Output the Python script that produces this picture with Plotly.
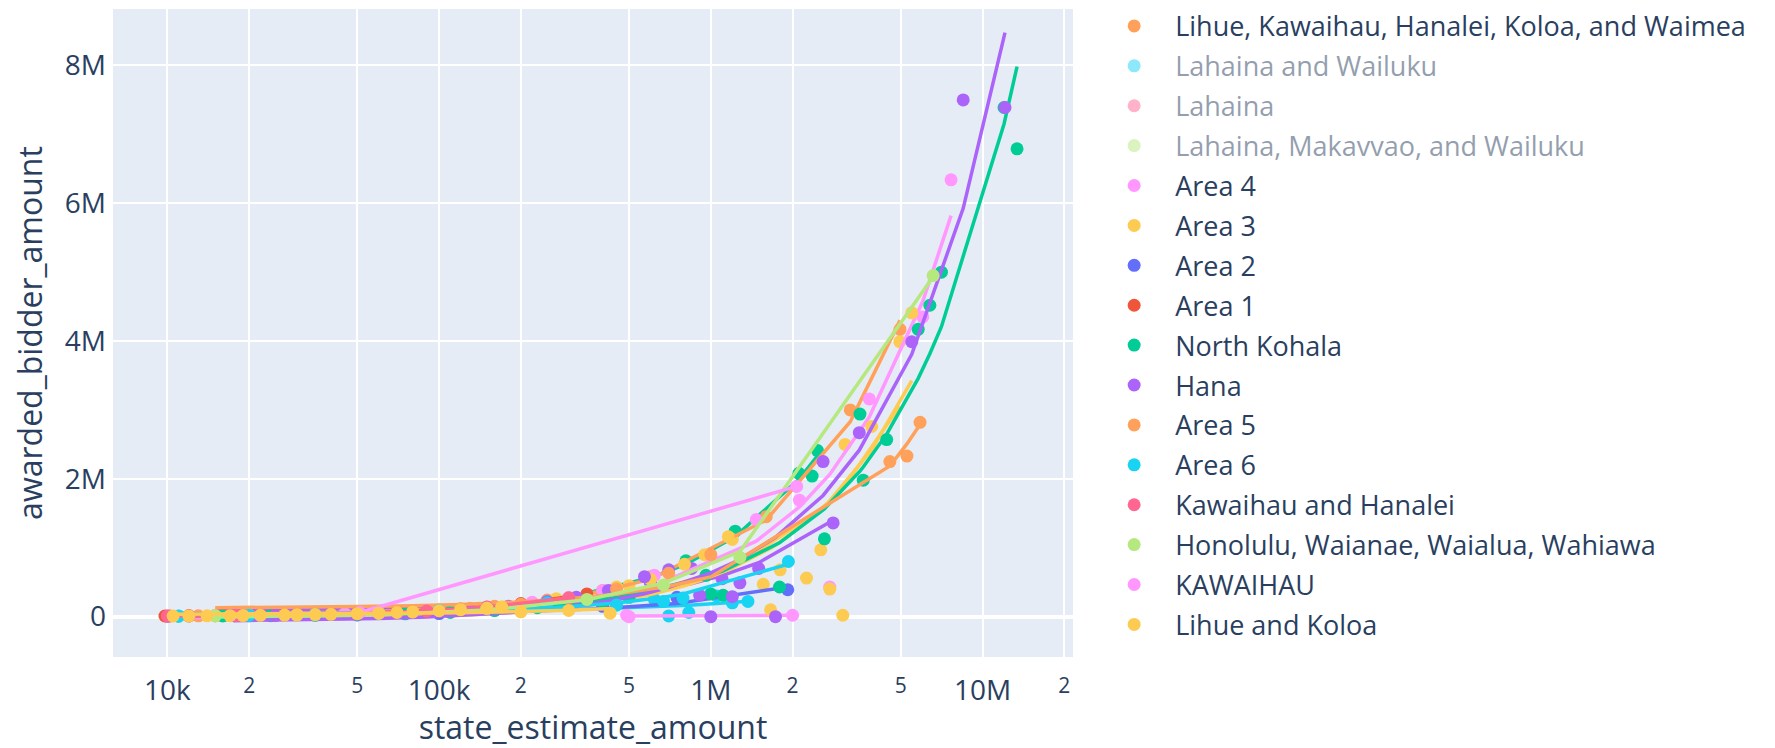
import numpy as np
import plotly.graph_objects as go

# ---------------- data (dollars) ----------------
# groups shown in the legend, in legend order
lihue_waimea_x = [0.013e6, 0.02e6, 0.035e6, 0.06e6, 0.1e6, 0.16e6, 0.25e6, 0.4e6, 0.6e6, 1.6e6, 3.26e6, 4.97e6]
lihue_waimea_y = [0.012e6, 0.019e6, 0.033e6, 0.057e6, 0.095e6, 0.15e6, 0.24e6, 0.38e6, 0.58e6, 1.45e6, 3.0e6, 4.17e6]

lahaina_wailuku_x = [0.05e6, 0.3e6, 1.2e6]
lahaina_wailuku_y = [0.045e6, 0.27e6, 1.0e6]

lahaina_x = [0.04e6, 0.2e6, 0.9e6]
lahaina_y = [0.035e6, 0.18e6, 0.8e6]

lahaina_makawao_x = [0.06e6, 0.5e6, 2.0e6]
lahaina_makawao_y = [0.05e6, 0.45e6, 1.8e6]

area4_x = [0.012e6, 0.02e6, 0.03e6, 0.045e6, 0.07e6, 0.1e6, 0.15e6, 0.22e6, 0.3e6, 0.4e6,
           0.62e6, 1.47e6, 2.12e6, 2.74e6, 3.83e6, 6.03e6, 7.66e6]
area4_y = [0.011e6, 0.019e6, 0.028e6, 0.043e6, 0.066e6, 0.095e6, 0.14e6, 0.21e6, 0.28e6, 0.38e6,
           0.6e6, 1.41e6, 1.69e6, 0.43e6, 3.16e6, 4.35e6, 6.34e6]

area3_x = [0.015e6, 0.02e6, 0.03e6, 0.05e6, 0.07e6, 0.1e6, 0.13e6, 0.2e6, 0.27e6, 0.35e6, 0.45e6, 0.6e6,
           0.8e6, 0.95e6, 1.16e6, 1.56e6, 1.66e6, 1.8e6, 2.25e6, 2.74e6, 3.91e6, 5.49e6]
area3_y = [0.014e6, 0.018e6, 0.028e6, 0.047e6, 0.066e6, 0.095e6, 0.12e6, 0.18e6, 0.26e6, 0.32e6, 0.43e6, 0.54e6,
           0.76e6, 0.9e6, 1.16e6, 0.47e6, 0.1e6, 0.68e6, 0.56e6, 0.4e6, 2.76e6, 4.41e6]

area2_x = [0.01e6, 0.02e6, 0.05e6, 0.1e6, 0.2e6, 0.4e6, 0.75e6, 1.92e6]
area2_y = [0.006e6, 0.011e6, 0.025e6, 0.045e6, 0.08e6, 0.15e6, 0.28e6, 0.39e6]

area1_x = [0.0098e6, 0.0102e6, 0.012e6, 0.016e6, 0.025e6, 0.04e6, 0.07e6, 0.12e6, 0.2e6, 0.35e6]
area1_y = [0.009e6, 0.0095e6, 0.011e6, 0.015e6, 0.023e6, 0.037e6, 0.065e6, 0.11e6, 0.19e6, 0.33e6]

north_kohala_x = [0.011e6, 0.016e6, 0.024e6, 0.035e6, 0.05e6, 0.075e6, 0.11e6, 0.16e6, 0.23e6, 0.3e6, 0.4e6, 0.5e6,
                  0.96e6, 1.0e6, 1.11e6, 1.79e6, 2.62e6, 3.54e6, 3.64e6, 4.44e6, 5.8e6, 6.4e6, 7.06e6,
                  12.0e6, 13.4e6]
north_kohala_y = [0.006e6, 0.009e6, 0.013e6, 0.019e6, 0.028e6, 0.041e6, 0.06e6, 0.088e6, 0.13e6, 0.17e6, 0.22e6, 0.28e6,
                  0.6e6, 0.33e6, 0.31e6, 0.43e6, 1.13e6, 2.94e6, 1.98e6, 2.57e6, 4.17e6, 4.52e6, 5.0e6,
                  7.39e6, 6.79e6]

hana_x = [0.0175e6, 0.025e6, 0.04e6, 0.06e6, 0.09e6, 0.13e6, 0.18e6, 0.25e6, 0.32e6, 0.42e6, 0.57e6, 0.70e6,
          0.91e6, 1.0e6, 1.2e6, 1.28e6, 1.73e6, 2.59e6, 3.52e6, 5.49e6, 8.49e6, 12.1e6]
hana_y = [0.015e6, 0.02e6, 0.035e6, 0.05e6, 0.08e6, 0.11e6, 0.15e6, 0.22e6, 0.28e6, 0.38e6, 0.58e6, 0.68e6,
          0.31e6, 0.0e6, 0.29e6, 0.49e6, 0.0e6, 2.25e6, 2.67e6, 3.99e6, 7.5e6, 7.39e6]

area5_x = [0.015e6, 0.03e6, 0.05e6, 0.08e6, 0.12e6, 0.2e6, 0.3e6, 0.45e6, 0.7e6, 1.0e6, 4.56e6, 5.27e6, 5.89e6]
area5_y = [0.013e6, 0.027e6, 0.045e6, 0.072e6, 0.11e6, 0.18e6, 0.27e6, 0.4e6, 0.63e6, 0.9e6, 2.25e6, 2.33e6, 2.82e6]

area6_x = [0.011e6, 0.02e6, 0.035e6, 0.06e6, 0.1e6, 0.15e6, 0.25e6, 0.45e6, 0.67e6, 0.79e6, 1.93e6]
area6_y = [0.01e6, 0.018e6, 0.032e6, 0.055e6, 0.09e6, 0.13e6, 0.2e6, 0.17e6, 0.22e6, 0.27e6, 0.8e6]

kawaihau_hanalei_x = [0.01e6, 0.018e6, 0.03e6, 0.05e6, 0.09e6, 0.15e6, 0.3e6]
kawaihau_hanalei_y = [0.009e6, 0.016e6, 0.027e6, 0.045e6, 0.08e6, 0.14e6, 0.27e6]

honolulu_x = [0.015e6, 0.03e6, 0.06e6, 0.15e6, 0.35e6, 0.67e6, 1.28e6, 6.58e6]
honolulu_y = [0.012e6, 0.025e6, 0.05e6, 0.12e6, 0.25e6, 0.46e6, 0.86e6, 4.95e6]

kawaihau_x = [0.051e6, 2.07e6]
kawaihau_y = [0.06e6, 1.89e6]

lihue_koloa_x = [0.0105e6, 0.012e6, 0.014e6, 0.017e6, 0.019e6, 0.022e6, 0.027e6, 0.03e6, 0.035e6, 0.04e6,
                 0.05e6, 0.06e6, 0.07e6, 0.08e6, 0.1e6, 0.12e6, 0.15e6, 0.17e6, 0.2e6, 0.3e6, 0.426e6]
lihue_koloa_y = [0.009e6, 0.01e6, 0.012e6, 0.014e6, 0.016e6, 0.019e6, 0.023e6, 0.026e6, 0.03e6, 0.034e6,
                 0.043e6, 0.05e6, 0.06e6, 0.068e6, 0.085e6, 0.1e6, 0.12e6, 0.14e6, 0.07e6, 0.09e6, 0.05e6]

# further groups whose legend entries are scrolled out of view
extra_green_x = [0.012e6, 0.02e6, 0.04e6, 0.08e6, 0.15e6, 0.3e6, 0.6e6, 0.81e6, 1.23e6, 2.11e6, 2.36e6, 2.47e6]
extra_green_y = [0.01e6, 0.017e6, 0.035e6, 0.07e6, 0.13e6, 0.25e6, 0.5e6, 0.81e6, 1.24e6, 2.08e6, 2.04e6, 2.41e6]

extra_purple_x = [0.015e6, 0.025e6, 0.05e6, 0.12e6, 0.25e6, 0.4e6, 0.6e6, 0.85e6, 1.1e6, 1.5e6, 2.82e6]
extra_purple_y = [0.013e6, 0.02e6, 0.04e6, 0.1e6, 0.2e6, 0.33e6, 0.5e6, 0.7e6, 0.55e6, 0.7e6, 1.36e6]

extra_cyan_x = [0.45e6, 0.62e6, 0.7e6, 0.83e6, 1.05e6, 1.2e6, 1.37e6]
extra_cyan_y = [0.17e6, 0.25e6, 0.01e6, 0.06e6, 0.3e6, 0.2e6, 0.22e6]

extra_yellow_x = [0.012e6, 0.025e6, 0.05e6, 0.1e6, 0.25e6, 0.5e6, 1.2e6, 2.54e6, 3.06e6, 3.12e6, 4.96e6]
extra_yellow_y = [0.011e6, 0.022e6, 0.045e6, 0.09e6, 0.22e6, 0.45e6, 1.12e6, 0.97e6, 0.02e6, 2.5e6, 3.99e6]

extra_pink_x = [0.49e6, 0.5e6, 2.0e6]
extra_pink_y = [0.02e6, 0.0e6, 0.02e6]

legend_names = [
    "Lihue, Kawaihau, Hanalei, Koloa, and Waimea",
    "Lahaina and Wailuku",
    "Lahaina",
    "Lahaina, Makavvao, and Wailuku",
    "Area 4",
    "Area 3",
    "Area 2",
    "Area 1",
    "North Kohala",
    "Hana",
    "Area 5",
    "Area 6",
    "Kawaihau and Hanalei",
    "Honolulu, Waianae, Waialua, Wahiawa",
    "KAWAIHAU",
    "Lihue and Koloa",
]
legend_hidden = ["Lahaina and Wailuku", "Lahaina", "Lahaina, Makavvao, and Wailuku"]

y_tick_values = [0, 2e6, 4e6, 6e6, 8e6]
y_tick_labels = ["0", "2M", "4M", "6M", "8M"]

# ---------------- styling ----------------
C = ["#636efa", "#EF553B", "#00cc96", "#ab63fa", "#FFA15A",
     "#19d3f3", "#FF6692", "#B6E880", "#FF97FF", "#FECB52"]

groups = [
    # (name, x, y, color, in_legend)
    ("extra green", extra_green_x, extra_green_y, C[2], False),
    ("extra purple", extra_purple_x, extra_purple_y, C[3], False),
    ("extra cyan", extra_cyan_x, extra_cyan_y, C[5], False),
    ("extra yellow", extra_yellow_x, extra_yellow_y, C[9], False),
    ("extra pink", extra_pink_x, extra_pink_y, C[8], False),
    (legend_names[0], lihue_waimea_x, lihue_waimea_y, C[4], True),
    (legend_names[1], lahaina_wailuku_x, lahaina_wailuku_y, C[5], True),
    (legend_names[2], lahaina_x, lahaina_y, C[6], True),
    (legend_names[3], lahaina_makawao_x, lahaina_makawao_y, C[7], True),
    (legend_names[4], area4_x, area4_y, C[8], True),
    (legend_names[5], area3_x, area3_y, C[9], True),
    (legend_names[6], area2_x, area2_y, C[0], True),
    (legend_names[7], area1_x, area1_y, C[1], True),
    (legend_names[8], north_kohala_x, north_kohala_y, C[2], True),
    (legend_names[9], hana_x, hana_y, C[3], True),
    (legend_names[10], area5_x, area5_y, C[4], True),
    (legend_names[11], area6_x, area6_y, C[5], True),
    (legend_names[12], kawaihau_hanalei_x, kawaihau_hanalei_y, C[6], True),
    (legend_names[13], honolulu_x, honolulu_y, C[7], True),
    (legend_names[14], kawaihau_x, kawaihau_y, C[8], True),
    (legend_names[15], lihue_koloa_x, lihue_koloa_y, C[9], True),
]

fig = go.Figure()
for name, xs, ys, col, in_leg in groups:
    xa = np.array(xs, dtype=float)
    ya = np.array(ys, dtype=float)
    vis = "legendonly" if name in legend_hidden else True
    fig.add_trace(go.Scatter(
        x=xa, y=ya, mode="markers", name=name, legendgroup=name,
        showlegend=in_leg, visible=vis,
        marker=dict(color=col, size=13),
    ))
    # ordinary least squares trendline, as plotly express draws it
    slope, intercept = np.polyfit(xa, ya, 1)
    xs_sorted = np.sort(np.unique(xa))
    fig.add_trace(go.Scatter(
        x=xs_sorted, y=intercept + slope * xs_sorted, mode="lines",
        name=name, legendgroup=name, showlegend=False, visible=vis,
        line=dict(color=col, width=3.5), hoverinfo="skip",
    ))

font_family = '"Open Sans", verdana, arial, sans-serif'
fig.update_layout(
    width=1759, height=740,
    margin=dict(l=105, r=694, t=1, b=91, autoexpand=False),
    plot_bgcolor="#E5ECF6", paper_bgcolor="white",
    font=dict(family=font_family, color="#2a3f5f", size=28),
    legend=dict(x=1.021, y=1.011, xanchor="left", yanchor="top",
                font=dict(size=27), itemwidth=72, tracegroupgap=1.8,
                maxheight=735, bgcolor="rgba(0,0,0,0)"),
    xaxis=dict(
        type="log", range=[3.80, 7.333], dtick="D2", automargin=False,
        title=dict(text="state_estimate_amount", font=dict(size=32), standoff=30),
        gridcolor="white", gridwidth=2, showline=False, zeroline=False,
        tickfont=dict(size=28), ticklabelstandoff=14,
    ),
    yaxis=dict(
        range=[-0.586e6, 8.82e6], tickvals=y_tick_values, ticktext=y_tick_labels,
        automargin=False,
        title=dict(text="awarded_bidder_amount", font=dict(size=32), standoff=22),
        gridcolor="white", gridwidth=2, zeroline=True, zerolinecolor="white",
        zerolinewidth=4, tickfont=dict(size=28), ticklabelstandoff=6,
    ),
    showlegend=True,
)

fig.write_html("out.html")
